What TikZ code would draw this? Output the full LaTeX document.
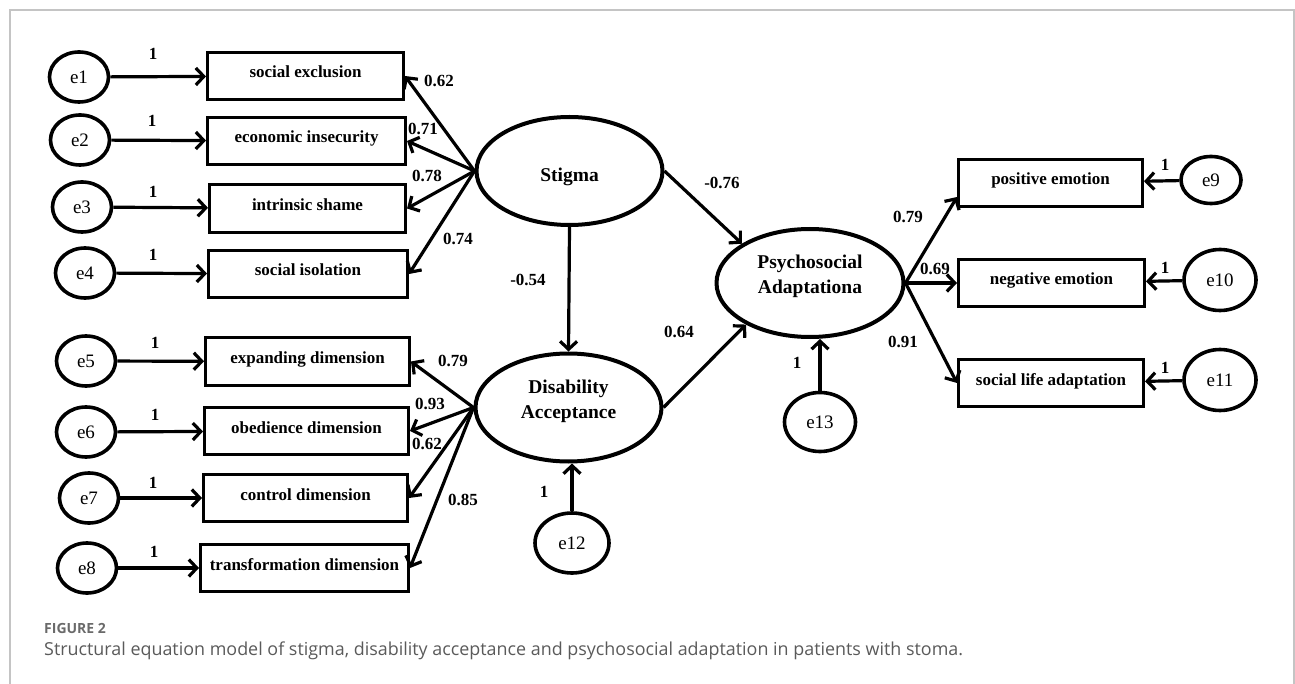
\documentclass[tikz,border=0pt]{standalone}
\usepackage{fontspec}
\setmainfont{Liberation Serif}
\newfontfamily\capfont{Open Sans}
\usetikzlibrary{arrows.meta,shapes.geometric}
\definecolor{framegray}{HTML}{C4C4C4}
\definecolor{capgray}{HTML}{5A5A5A}
\definecolor{figgray}{HTML}{6A6A6A}

\begin{document}
\begin{tikzpicture}[x=1pt,y=-1pt,
  obs/.style={draw,line width=3pt,minimum width=#1,minimum height=47.5pt,inner sep=0pt,
    font=\fontsize{17}{19}\selectfont\bfseries,text height=10pt,text depth=6pt},
  lat/.style={ellipse,draw,line width=4pt,minimum width=186pt,minimum height=108pt,inner sep=0pt,
    font=\fontsize{19.5}{25}\selectfont\bfseries,align=center},
  err/.style={ellipse,draw,line width=3.6pt,inner sep=0pt,font=\fontsize{19}{21}\selectfont},
  arr/.style={line width=3.2pt,-{Straight Barb[length=8pt,width=17pt]}},
  coef/.style={font=\fontsize{17}{19}\selectfont\bfseries,inner sep=0pt}]
  \useasboundingbox (0,0) rectangle (1295,684);
  \draw[framegray,line width=1.5pt] (10,684) -- (10,10) -- (1294,10) -- (1294,684);

  % Latent variables
  \node[lat,text height=22pt,text depth=0pt] (stig) at (569.5,171) {Stigma};
  \node[lat,text depth=17.5pt] (dis) at (568.5,407.5) {Disability\\Acceptance};
  \node[lat,minimum width=187pt,text depth=17.5pt] (psy) at (810,283) {Psychosocial\\Adaptationa};

  % Stigma indicators
  \node[obs=196pt] (excl) at (305.5,76) {social exclusion};
  \node[obs=198pt] (econ) at (306.5,141) {economic insecurity};
  \node[obs=196pt] (shame) at (307.5,208.5) {intrinsic shame};
  \node[obs=199pt] (isol) at (308,274) {social isolation};
  \node[err,minimum width=59pt,minimum height=50pt] (e1) at (79,77) {e1};
  \node[err,minimum width=59pt,minimum height=50pt] (e2) at (80,140) {e2};
  \node[err,minimum width=59pt,minimum height=50pt] (e3) at (82,207) {e3};
  \node[err,minimum width=59pt,minimum height=50pt] (e4) at (85,273) {e4};

  % Disability acceptance indicators
  \node[obs=204pt] (expd) at (307.5,361.5) {expanding dimension};
  \node[obs=204pt] (obed) at (306.5,431) {obedience dimension};
  \node[obs=204pt] (ctrl) at (305.5,498) {control dimension};
  \node[obs=208pt] (trans) at (304.5,568) {transformation dimension};
  \node[err,minimum width=59pt,minimum height=50pt] (e5) at (86,361) {e5};
  \node[err,minimum width=59pt,minimum height=50pt] (e6) at (86,432) {e6};
  \node[err,minimum width=59pt,minimum height=50pt] (e7) at (89,498) {e7};
  \node[err,minimum width=59pt,minimum height=50pt] (e8) at (87,568) {e8};

  % Adaptation indicators
  \node[obs=184pt] (pos) at (1050.5,183) {positive emotion};
  \node[obs=186pt] (neg) at (1051.5,283) {negative emotion};
  \node[obs=185pt] (life) at (1051,383) {social life adaptation};
  \node[err,minimum width=60pt,minimum height=47pt] (e9) at (1211,180) {e9};
  \node[err,minimum width=72pt,minimum height=61pt] (e10) at (1220,280) {e10};
  \node[err,minimum width=72pt,minimum height=61pt] (e11) at (1220,380) {e11};
  \node[err,minimum width=74pt,minimum height=60pt] (e12) at (572,543) {e12};
  \node[err,minimum width=71pt,minimum height=59pt] (e13) at (820,422) {e13};

  % Error paths
  \draw[arr] (e1) -- (excl);
  \draw[arr] (e2) -- (econ);
  \draw[arr] (e3) -- (shame);
  \draw[arr] (e4) -- (isol);
  \draw[arr] (e5) -- (expd);
  \draw[arr] (e6) -- (obed);
  \draw[arr] (e7) -- (ctrl);
  \draw[arr] (e8) -- (trans);
  \draw[arr] (e9) -- (pos);
  \draw[arr] (e10) -- (neg);
  \draw[arr] (e11) -- (life);
  \draw[arr] (e12) -- (e12 |- dis.south);
  \draw[arr] (e13) -- (e13 |- psy.south);

  % Loadings
  \draw[arr] (stig.west) -- (excl.east);
  \draw[arr] (stig.west) -- (econ.east);
  \draw[arr] (stig.west) -- (shame.east);
  \draw[arr] (stig.west) -- (isol.east);
  \draw[arr] (dis.west) -- (expd.east);
  \draw[arr] (dis.west) -- (obed.east);
  \draw[arr] (dis.west) -- (ctrl.east);
  \draw[arr] (dis.west) -- (trans.east);
  \draw[arr] (psy.east) -- ([yshift=-14pt]pos.west);
  \draw[arr] (psy.east) -- (neg.west);
  \draw[arr] (psy.east) -- (life.west);

  % Structural paths
  \draw[arr] (stig.south) -- (dis.north);
  \draw[arr] (stig.east) -- (psy.150);
  \draw[arr] (dis.east) -- (psy.213);

  % Coefficients
  \node[coef] (c1) at (153,54) {1};
  \node[coef] (c2) at (152,121) {1};
  \node[coef] (c3) at (153,192) {1};
  \node[coef] (c4) at (153,255) {1};
  \node[coef] (c5) at (155,343) {1};
  \node[coef] (c6) at (155,415) {1};
  \node[coef] (c7) at (153,483) {1};
  \node[coef] (c8) at (154,552) {1};
  \node[coef] (c9) at (1165,165) {1};
  \node[coef] (c10) at (1165,268) {1};
  \node[coef] (c11) at (1165,368) {1};
  \node[coef] (c12) at (544,492) {1};
  \node[coef] (c13) at (797,363) {1};
  \node[coef] (l1) at (439,81) {0.62};
  \node[coef] (l2) at (423,129) {0.71};
  \node[coef] (l3) at (427,176) {0.78};
  \node[coef] (l4) at (458,239) {0.74};
  \node[coef] (l5) at (453,361) {0.79};
  \node[coef] (l6) at (430,404) {0.93};
  \node[coef] (l7) at (427,444) {0.62};
  \node[coef] (l8) at (463,500) {0.85};
  \node[coef] (l9) at (908,217) {0.79};
  \node[coef] (l10) at (935,269) {0.69};
  \node[coef] (l11) at (903,342) {0.91};
  \node[coef] (s1) at (528,280) {-0.54};
  \node[coef] (s2) at (722,183) {-0.76};
  \node[coef] (s3) at (679,332) {0.64};

  % Caption
  \node[anchor=base west,inner sep=0pt,figgray,font=\capfont\fontsize{14}{16}\selectfont\bfseries] (fig) at (44,633) {FIGURE 2};
  \node[anchor=base west,inner sep=0pt,capgray,font=\capfont\fontsize{17.9}{20}\selectfont] (cap) at (44,655)
    {Structural equation model of stigma, disability acceptance and psychosocial adaptation in patients with stoma.};
\end{tikzpicture}
\end{document}
